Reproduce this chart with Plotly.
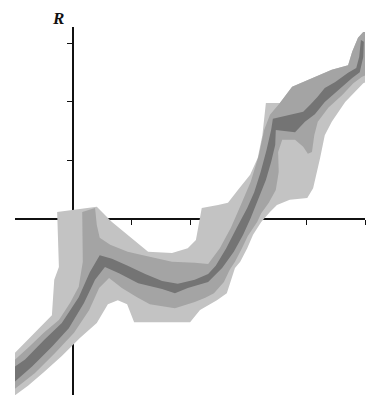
import plotly.graph_objects as go

# Fan of outcomes for R: outer, middle and inner probability bands.
# Each band is an outline: its upper edge left to right, then its lower edge right to left.
outer_upper_x = [-1.09, -0.37, -0.33, -0.25, -0.28, 0.40, 0.66, 0.93, 1.28, 1.69, 1.96, 2.10, 2.20,
                 2.48, 2.65, 2.82, 3.03, 3.16, 3.24, 3.30, 3.54, 3.75, 4.09, 4.43, 4.71, 4.78, 4.88,
                 4.97, 5.02]
outer_upper_y = [-2.39, -1.66, -1.05, -0.83, 0.11, 0.20, -0.06, -0.28, -0.57, -0.59, -0.51, -0.37, 0.18,
                 0.23, 0.27, 0.49, 0.75, 1.04, 1.43, 1.98, 1.98, 2.26, 2.41, 2.55, 2.63, 2.86, 3.10,
                 3.20, 3.20]
outer_lower_x = [5.02, 4.97, 4.66, 4.43, 4.31, 4.23, 4.11, 4.01, 3.71, 3.49, 3.37, 3.22, 3.08, 2.98,
                 2.86, 2.77, 2.63, 2.46, 2.17, 2.00, 1.04, 0.92, 0.76, 0.59, 0.40, 0.11, -0.01, -0.20,
                 -0.50, -0.78, -1.00, -1.12]
outer_lower_y = [2.34, 2.32, 2.00, 1.66, 1.43, 1.04, 0.52, 0.35, 0.32, 0.23, 0.11, -0.06, -0.28, -0.51,
                 -0.74, -0.85, -1.28, -1.40, -1.57, -1.78, -1.78, -1.47, -1.40, -1.47, -1.79, -2.05,
                 -2.17, -2.36, -2.63, -2.87, -3.03, -3.11]

middle_upper_x = [-1.09, -1.00, -0.76, -0.51, -0.25, -0.06, 0.09, 0.16, 0.15, 0.37, 0.40, 0.45, 0.63,
                  0.93, 1.23, 1.69, 2.08, 2.31, 2.51, 2.70, 2.87, 3.04, 3.18, 3.27, 3.37, 3.54, 3.75,
                  4.09, 4.43, 4.71, 4.78, 4.88, 4.97, 5.02]
middle_upper_y = [-2.51, -2.42, -2.20, -1.96, -1.74, -1.45, -1.17, -0.74, 0.11, 0.18, -0.11, -0.33, -0.45,
                  -0.57, -0.64, -0.74, -0.76, -0.78, -0.51, -0.16, 0.23, 0.63, 1.09, 1.52, 1.78, 1.98,
                  2.26, 2.41, 2.55, 2.63, 2.86, 3.10, 3.20, 3.20]
middle_lower_x = [5.02, 4.95, 4.80, 4.61, 4.37, 4.19, 4.13, 4.09, 4.02, 3.94, 3.80, 3.58, 3.51, 3.52,
                  3.47, 3.35, 3.22, 3.15, 2.99, 2.89, 2.77, 2.68, 2.58, 2.41, 2.26, 2.08, 1.74, 1.31,
                  1.09, 0.83, 0.61, 0.44, 0.27, 0.01, -0.32, -0.66, -0.97, -1.12]
middle_lower_y = [2.46, 2.43, 2.32, 2.12, 1.90, 1.66, 1.43, 1.14, 1.11, 1.23, 1.35, 1.35, 1.14, 0.80,
                  0.49, 0.27, 0.09, -0.06, -0.30, -0.51, -0.74, -0.88, -1.09, -1.28, -1.36, -1.43,
                  -1.54, -1.47, -1.35, -1.19, -1.02, -1.19, -1.57, -1.96, -2.31, -2.65, -2.89, -3.01]

inner_upper_x = [-1.09, -0.83, -0.50, -0.20, 0.09, 0.28, 0.45, 0.66, 0.93, 1.23, 1.52, 1.79, 2.08,
                 2.31, 2.44, 2.62, 2.80, 2.98, 3.10, 3.21, 3.31, 3.39, 3.42, 3.75, 3.94, 4.06, 4.18,
                 4.31, 4.49, 4.71, 4.85, 4.90, 4.93]
inner_upper_y = [-2.60, -2.42, -2.08, -1.79, -1.35, -0.92, -0.63, -0.69, -0.81, -0.95, -1.07, -1.12,
                 -1.05, -0.95, -0.81, -0.51, -0.16, 0.18, 0.45, 0.80, 1.17, 1.52, 1.71, 1.78, 1.83,
                 1.95, 2.08, 2.24, 2.34, 2.50, 2.58, 2.77, 3.06]
inner_lower_x = [4.98, 4.97, 4.91, 4.78, 4.54, 4.31, 4.14, 3.97, 3.80, 3.47, 3.46, 3.39, 3.30, 3.18,
                 3.04, 2.91, 2.75, 2.55, 2.31, 1.96, 1.74, 1.52, 1.11, 0.78, 0.54, 0.37, 0.18, -0.08,
                 -0.37, -0.71, -0.97, -1.09]
inner_lower_y = [3.03, 2.77, 2.51, 2.41, 2.20, 2.00, 1.79, 1.66, 1.48, 1.52, 1.26, 0.97, 0.66, 0.35,
                 0.01, -0.28, -0.57, -0.85, -1.09, -1.19, -1.28, -1.21, -1.11, -0.94, -0.83, -1.05,
                 -1.45, -1.88, -2.20, -2.54, -2.77, -2.87]

bands = [
    ("outer", outer_upper_x, outer_upper_y, outer_lower_x, outer_lower_y, "#c3c3c3"),
    ("middle", middle_upper_x, middle_upper_y, middle_lower_x, middle_lower_y, "#a4a4a4"),
    ("inner", inner_upper_x, inner_upper_y, inner_lower_x, inner_lower_y, "#747474"),
]

x_ticks = [1, 2, 3, 4, 5]
y_ticks = [1, 2, 3]
x_range = [-1.003, 5.0]
y_range = [-3.027, 3.285]

fig = go.Figure()
for name, ux, uy, lx, ly, colour in bands:
    fig.add_trace(go.Scatter(
        x=ux + lx, y=uy + ly, mode="lines", fill="toself", name=name,
        fillcolor=colour, line=dict(width=0, color=colour), hoverinfo="skip",
    ))

# axes cross at the origin and sit beneath the bands
x_cross = (0 - y_range[0]) / (y_range[1] - y_range[0])
y_cross = (0 - x_range[0]) / (x_range[1] - x_range[0])

fig.update_layout(
    width=375, height=395,
    margin=dict(l=15, r=10, t=27, b=0),
    paper_bgcolor="white", plot_bgcolor="white",
    showlegend=False,
    xaxis=dict(range=x_range, anchor="free", position=x_cross, showline=True,
               linecolor="#111111", linewidth=2, ticks="outside", tickvals=x_ticks,
               ticklen=5, tickwidth=1, tickcolor="#111111", showticklabels=False,
               showgrid=False, zeroline=False, layer="below traces", fixedrange=True),
    yaxis=dict(range=y_range, anchor="free", position=y_cross, showline=True,
               linecolor="#111111", linewidth=2, ticks="outside", tickvals=y_ticks,
               ticklen=5, tickwidth=1, tickcolor="#111111", showticklabels=False,
               showgrid=False, zeroline=False, layer="below traces", fixedrange=True),
    annotations=[dict(text="<b><i>R</i></b>", xref="paper", yref="paper", x=0.123, y=1.022,
                      showarrow=False, xanchor="center", yanchor="middle",
                      font=dict(family="Liberation Serif", size=17, color="#111111"))],
)

fig.write_html("out.html")
